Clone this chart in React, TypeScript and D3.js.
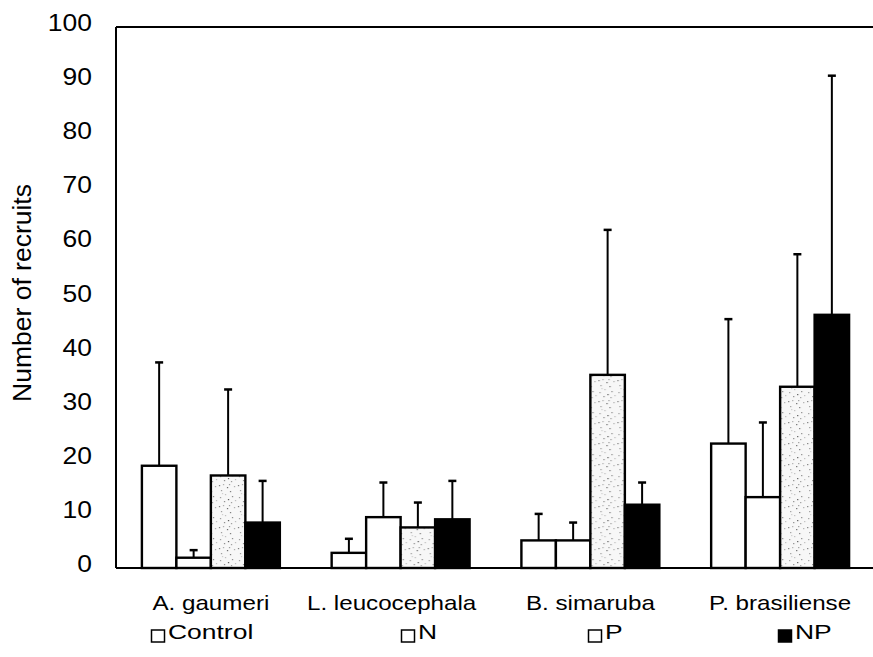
import React from "react";
import * as d3 from "d3";

const categories = ["A. gaumeri", "L. leucocephala", "B. simaruba", "P. brasiliense"];
const seriesNames = ["Control", "N", "P", "NP"];
const controlMean = [18.9, 2.8, 5.1, 23.0];
const controlErr = [19.1, 2.6, 4.9, 23.0];
const nMean = [1.9, 9.4, 5.1, 13.1];
const nErr = [1.4, 6.4, 3.3, 13.8];
const pMean = [17.1, 7.5, 35.7, 33.5];
const pErr = [15.9, 4.6, 26.8, 24.5];
const npMean = [8.4, 9.0, 11.7, 46.8];
const npErr = [7.7, 7.1, 4.1, 44.2];
const yTicks = [0, 10, 20, 30, 40, 50, 60, 70, 80, 90, 100];

const W = 873;
const H = 657;
const left = 116;
const right = 875;
const top = 27;
const bottom = 568;

const means = [controlMean, nMean, pMean, npMean];
const errs = [controlErr, nErr, pErr, npErr];
const fills = ["#ffffff", "#ffffff", "url(#speckle)", "#000000"];
const legendX = [151, 401, 588, 778];
const labelDx = [0, -9, 0, 0];

const speckDots: [number, number, string][] = [
  [1, 2, "#777"], [5, 1, "#aaa"], [9, 4, "#666"], [3, 7, "#999"], [12, 8, "#777"],
  [7, 11, "#bbb"], [14, 13, "#888"], [2, 14, "#999"], [10, 16, "#555"], [16, 3, "#aaa"],
  [6, 18, "#888"], [13, 19, "#999"], [17, 17, "#bbb"], [4, 10, "#ccc"], [11, 1, "#999"],
];

export default function App() {
  const x0 = d3
    .scaleBand<string>()
    .domain(categories)
    .range([left, right])
    .paddingInner(0.273)
    .paddingOuter(0.1365);
  const x1 = d3
    .scaleBand<string>()
    .domain(seriesNames)
    .range([0, x0.bandwidth()])
    .padding(0);
  const y = d3.scaleLinear().domain([0, 100]).range([bottom, top]);

  const tickSx = 1.08;
  const catSx = 1.18;
  const legSx = 1.26;

  return (
    <svg
      width={W}
      height={H}
      style={{ position: "fixed", left: 0, top: 0, background: "#fff" }}
      fontFamily="'Liberation Sans', Arial, sans-serif"
    >
      <defs>
        <pattern id="speckle" width={19} height={21} patternUnits="userSpaceOnUse">
          <rect width={19} height={21} fill="#f7f7f7" />
          {speckDots.map(([dx, dy, c], i) => (
            <rect key={i} x={dx} y={dy} width={1.2} height={1.2} fill={c} />
          ))}
        </pattern>
      </defs>
      <rect width={W} height={H} fill="#fff" />

      {/* y tick labels */}
      {yTicks.map((t) => (
        <g key={t} transform={`translate(92,${y(t) + 4}) scale(${tickSx},1)`}>
          <text textAnchor="end" fontSize={24.5} fill="#000">
            {t}
          </text>
        </g>
      ))}

      {/* y title */}
      <text
        transform={`translate(31,${293}) rotate(-90)`}
        textAnchor="middle"
        fontSize={26.5}
        fill="#000"
      >
        Number of recruits
      </text>

      {/* bars */}
      {categories.map((c, ci) => (
        <g key={c} transform={`translate(${x0(c)},0)`}>
          {seriesNames.map((s, si) => {
            const v = means[si][ci];
            const e = errs[si][ci];
            const bx = x1(s)!;
            const bw = x1.bandwidth();
            const cx = bx + bw / 2;
            return (
              <g key={s}>
                <line x1={cx} x2={cx} y1={y(v)} y2={y(v + e)} stroke="#000" strokeWidth={2} />
                <line x1={cx - 4} x2={cx + 4} y1={y(v + e)} y2={y(v + e)} stroke="#000" strokeWidth={2.5} />
                <rect
                  x={bx}
                  y={y(v)}
                  width={bw}
                  height={y(0) - y(v)}
                  fill={fills[si]}
                  stroke="#000"
                  strokeWidth={2.4}
                />
              </g>
            );
          })}
        </g>
      ))}

      {/* axes frame */}
      <line x1={left} x2={left} y1={top} y2={bottom} stroke="#000" strokeWidth={2} />
      <line x1={left} x2={W} y1={top} y2={top} stroke="#000" strokeWidth={2} />
      <line x1={left} x2={W} y1={bottom} y2={bottom} stroke="#000" strokeWidth={2} />

      {/* category labels */}
      {categories.map((c, ci) => (
        <g
          key={c}
          transform={`translate(${x0(c)! + x0.bandwidth() / 2 + labelDx[ci]},610) scale(${catSx},1)`}
        >
          <text textAnchor="middle" fontSize={20.5} fill="#000">
            {c}
          </text>
        </g>
      ))}

      {/* legend */}
      {seriesNames.map((s, si) => (
        <g key={s} transform={`translate(${legendX[si]},0)`}>
          <rect
            x={0.5}
            y={630}
            width={13}
            height={12}
            fill={si === 3 ? "#000" : "#fff"}
            stroke="#000"
            strokeWidth={1.5}
          />
          <g transform={`translate(17,639) scale(${legSx},1)`}>
            <text fontSize={21} fill="#000">
              {s}
            </text>
          </g>
        </g>
      ))}
    </svg>
  );
}
